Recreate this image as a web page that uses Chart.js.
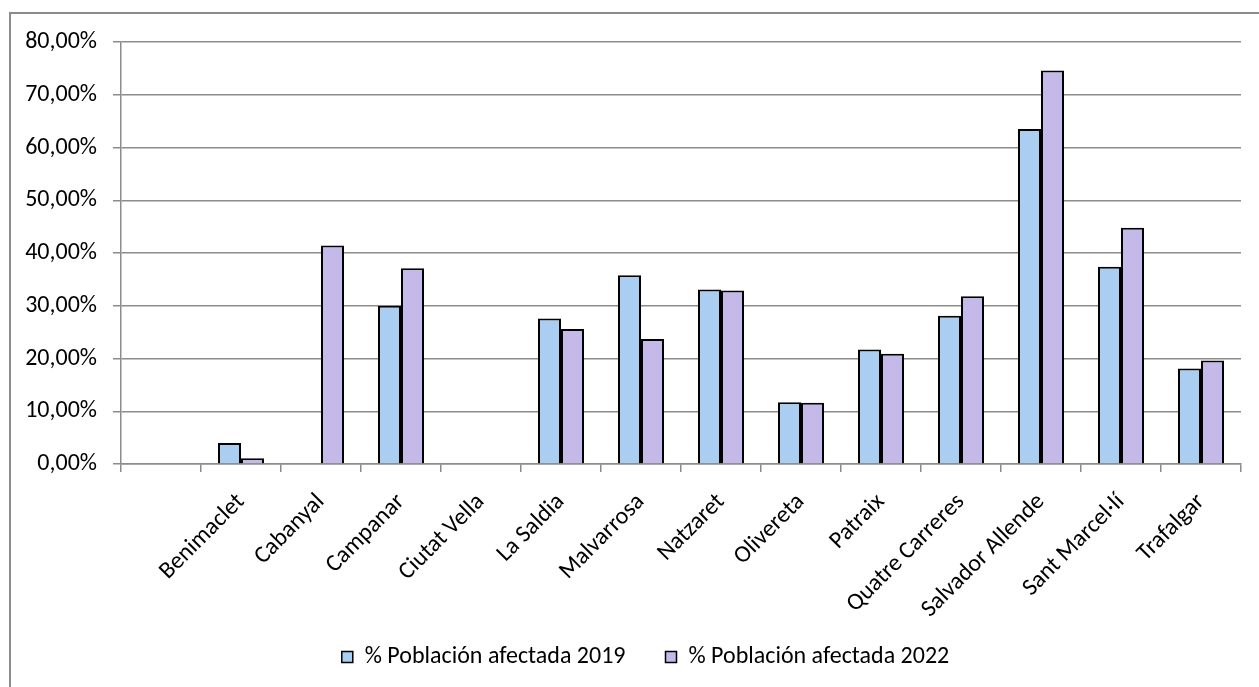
<!DOCTYPE html>
<html>
<head>
<meta charset="utf-8">
<script src="https://cdn.jsdelivr.net/npm/chart.js@4.4.1/dist/chart.umd.min.js"></script>
<style>
  html, body { margin: 0; padding: 0; background: #ffffff; }
  #wrap { position: relative; width: 1259px; height: 687px; }
</style>
</head>
<body>
<div id="wrap"><canvas id="c" width="1259" height="687"></canvas></div>
<script>
const categories = ["", "Benimaclet", "Cabanyal", "Campanar", "Ciutat Vella", "La Saldia", "Malvarrosa",
  "Natzaret", "Olivereta", "Patraix", "Quatre Carreres", "Salvador Allende", "Sant Marcel·lí", "Trafalgar"];
const series2019 = [null, 4.0, null, 30.0, null, 27.6, 35.8, 33.1, 11.7, 21.7, 28.1, 63.5, 37.4, 18.1];
const series2022 = [null, 1.1, 41.4, 37.1, null, 25.6, 23.7, 32.9, 11.6, 20.9, 31.8, 74.6, 44.8, 19.6];
const seriesNames = ["% Población afectada 2019", "% Población afectada 2022"];
const yMin = 0, yMax = 80, yStep = 10;

const FONT = 'Carlito, Lato, "Liberation Sans", sans-serif';
const GRID = '#8c8c8c';

const frame = {
  id: 'frame',
  beforeDraw(chart) {
    const ctx = chart.ctx;
    ctx.save();
    ctx.strokeStyle = '#8c8c8c';
    ctx.lineWidth = 2;
    ctx.beginPath();
    ctx.moveTo(10, chart.height + 5);
    ctx.lineTo(10, 13);
    ctx.lineTo(chart.width + 5, 13);
    ctx.stroke();
    ctx.restore();
  }
};

const layoutTweak = {
  id: 'layoutTweak',
  afterLayout(chart) {
    if (chart.legend) {
      chart.legend.left += 25;
      chart.legend.right += 25;
      chart.legend.top += 4;
      chart.legend.bottom += 4;
    }
    // let rotated x labels extend below the axis box without being clipped
    chart.scales.x.bottom = chart.height;
  }
};

new Chart(document.getElementById('c'), {
  type: 'bar',
  data: {
    labels: categories,
    datasets: [
      { label: seriesNames[0], data: series2019, backgroundColor: '#a9cef2', borderColor: '#000000', borderWidth: 2, borderSkipped: 'bottom' },
      { label: seriesNames[1], data: series2022, backgroundColor: '#c5b9ea', borderColor: '#000000', borderWidth: 2, borderSkipped: 'bottom' }
    ]
  },
  options: {
    responsive: false,
    animation: false,
    devicePixelRatio: 1,
    layout: { padding: { left: 0, right: 18, top: 42, bottom: 12 } },
    datasets: { bar: { categoryPercentage: 0.575, barPercentage: 1.0 } },
    plugins: {
      legend: {
        position: 'bottom',
        labels: {
          font: { family: FONT, size: 24 },
          color: '#000000',
          boxWidth: 11,
          boxHeight: 11,
          padding: 40,
          generateLabels(chart) {
            return chart.data.datasets.map((d, i) => ({
              text: d.label,
              fillStyle: d.backgroundColor,
              strokeStyle: '#000000',
              lineWidth: 1.5,
              datasetIndex: i,
              fontColor: '#000000'
            }));
          }
        }
      },
      tooltip: { enabled: false }
    },
    scales: {
      x: {
        grid: { display: true, drawOnChartArea: false, drawTicks: true, tickLength: 8, color: GRID, lineWidth: 1.5, offset: true },
        border: { display: true, color: GRID, width: 1.5 },
        ticks: { font: { family: FONT, size: 24 }, color: '#000000', minRotation: 45, maxRotation: 45, autoSkip: false, padding: 16 },
        afterFit(s) { s.height = 137; }
      },
      y: {
        min: yMin, max: yMax,
        grid: { color: GRID, lineWidth: 1.5, tickLength: 8 },
        border: { display: true, color: GRID, width: 1.5 },
        ticks: {
          stepSize: yStep,
          font: { family: FONT, size: 24 },
          color: '#000000',
          padding: 16,
          callback: v => v.toFixed(2).replace('.', ',') + '%'
        },
        afterFit(s) { s.width = 121; }
      }
    }
  },
  plugins: [frame, layoutTweak]
});
</script>
</body>
</html>
